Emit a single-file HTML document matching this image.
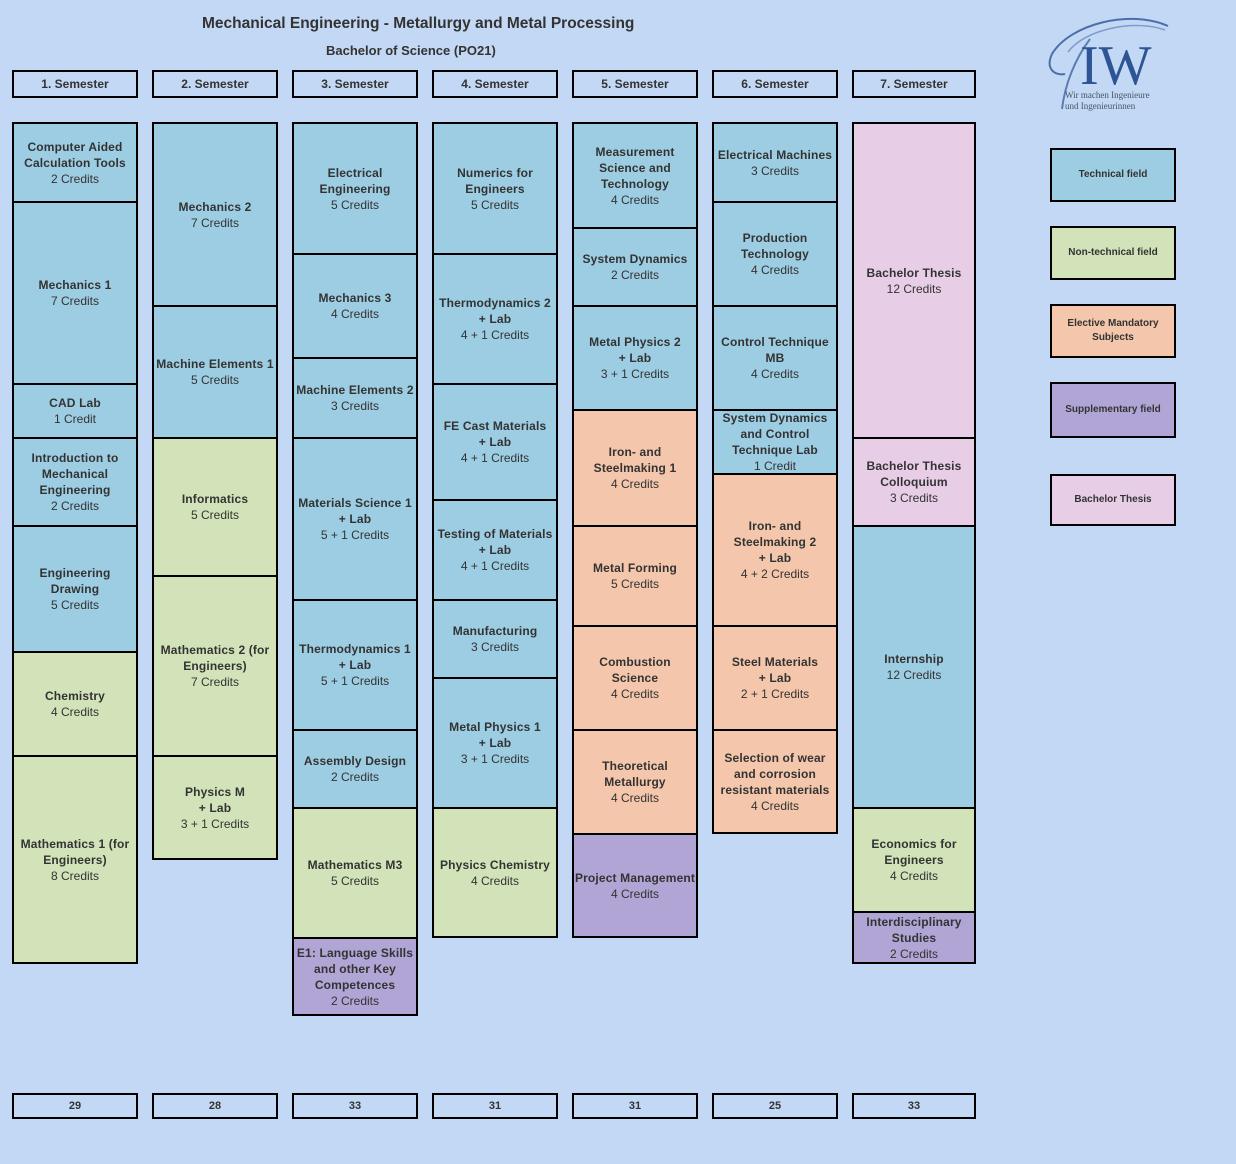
<!DOCTYPE html>
<html><head><meta charset="utf-8"><style>
body{margin:0;width:1236px;height:1164px;background:#c3d8f5;position:relative;overflow:hidden;font-family:"Liberation Sans",Arial,sans-serif;color:#333}
.x{position:absolute;box-sizing:border-box;border:2px solid #000;display:flex;flex-direction:column;align-items:center;justify-content:center;text-align:center;font-size:12px;line-height:16px}
.x b{letter-spacing:.15px;white-space:nowrap}
.h{font-weight:bold;font-size:12px}
.t{background:#9dcde2}.n{background:#d2e3b9}.e{background:#f4c6ab}.s{background:#b1a5d5}.p{background:#e8cde6}
.lg{font-size:10px;font-weight:bold;line-height:14px}
.title{position:absolute;font-weight:bold;color:#333}
</style></head><body>
<div class="title" style="left:202px;top:15px;font-size:15.5px">Mechanical Engineering - Metallurgy and Metal Processing</div>
<div class="title" style="left:326px;top:43px;font-size:13px">Bachelor of Science (PO21)</div>

<svg style="position:absolute;left:1040px;top:14px" width="140" height="100" viewBox="0 0 140 100">
<path d="M128 12 C90 -5 30 10 12 40 C5 55 15 62 25 60" fill="none" stroke="#4a6fa8" stroke-width="2"/>
<path d="M125 16 C95 5 45 15 28 38" fill="none" stroke="#7f9cc9" stroke-width="1.5"/>
<path d="M50 25 C35 45 25 70 22 95" fill="none" stroke="#5a7db3" stroke-width="2"/>
<text x="40" y="70" font-family="Liberation Serif,serif" font-size="56" fill="#2d5595">IW</text>
<text x="25" y="84" font-family="Liberation Serif,serif" font-size="9" fill="#456">Wir machen Ingenieure</text>
<text x="25" y="95" font-family="Liberation Serif,serif" font-size="9" fill="#456">und Ingenieurinnen</text>
</svg>

<div class="x h" style="left:12px;top:70px;width:126px;height:28px">1. Semester</div>
<div class="x h" style="left:152px;top:70px;width:126px;height:28px">2. Semester</div>
<div class="x h" style="left:292px;top:70px;width:126px;height:28px">3. Semester</div>
<div class="x h" style="left:432px;top:70px;width:126px;height:28px">4. Semester</div>
<div class="x h" style="left:572px;top:70px;width:126px;height:28px">5. Semester</div>
<div class="x h" style="left:712px;top:70px;width:126px;height:28px">6. Semester</div>
<div class="x h" style="left:852px;top:70px;width:124px;height:28px">7. Semester</div>

<!-- col1 -->
<div class="x t" style="left:12px;top:122px;width:126px;height:81px"><b>Computer Aided<br>Calculation Tools</b>2 Credits</div>
<div class="x t" style="left:12px;top:201px;width:126px;height:184px"><b>Mechanics 1</b>7 Credits</div>
<div class="x t" style="left:12px;top:383px;width:126px;height:56px"><b>CAD Lab</b>1 Credit</div>
<div class="x t" style="left:12px;top:437px;width:126px;height:90px"><b>Introduction to<br>Mechanical<br>Engineering</b>2 Credits</div>
<div class="x t" style="left:12px;top:525px;width:126px;height:128px"><b>Engineering<br>Drawing</b>5 Credits</div>
<div class="x n" style="left:12px;top:651px;width:126px;height:106px"><b>Chemistry</b>4 Credits</div>
<div class="x n" style="left:12px;top:755px;width:126px;height:209px"><b>Mathematics 1 (for<br>Engineers)</b>8 Credits</div>
<!-- col2 -->
<div class="x t" style="left:152px;top:122px;width:126px;height:185px"><b>Mechanics 2</b>7 Credits</div>
<div class="x t" style="left:152px;top:305px;width:126px;height:134px"><b>Machine Elements 1</b>5 Credits</div>
<div class="x n" style="left:152px;top:437px;width:126px;height:140px"><b>Informatics</b>5 Credits</div>
<div class="x n" style="left:152px;top:575px;width:126px;height:182px"><b>Mathematics 2 (for<br>Engineers)</b>7 Credits</div>
<div class="x n" style="left:152px;top:755px;width:126px;height:105px"><b>Physics M<br>+ Lab</b>3 + 1 Credits</div>
<!-- col3 -->
<div class="x t" style="left:292px;top:122px;width:126px;height:133px"><b>Electrical<br>Engineering</b>5 Credits</div>
<div class="x t" style="left:292px;top:253px;width:126px;height:106px"><b>Mechanics 3</b>4 Credits</div>
<div class="x t" style="left:292px;top:357px;width:126px;height:82px"><b>Machine Elements 2</b>3 Credits</div>
<div class="x t" style="left:292px;top:437px;width:126px;height:164px"><b>Materials Science 1<br>+ Lab</b>5 + 1 Credits</div>
<div class="x t" style="left:292px;top:599px;width:126px;height:132px"><b>Thermodynamics 1<br>+ Lab</b>5 + 1 Credits</div>
<div class="x t" style="left:292px;top:729px;width:126px;height:80px"><b>Assembly Design</b>2 Credits</div>
<div class="x n" style="left:292px;top:807px;width:126px;height:132px"><b>Mathematics M3</b>5 Credits</div>
<div class="x s" style="left:292px;top:937px;width:126px;height:79px"><b>E1: Language Skills<br>and other Key<br>Competences</b>2 Credits</div>
<!-- col4 -->
<div class="x t" style="left:432px;top:122px;width:126px;height:133px"><b>Numerics for<br>Engineers</b>5 Credits</div>
<div class="x t" style="left:432px;top:253px;width:126px;height:132px"><b>Thermodynamics 2<br>+ Lab</b>4 + 1 Credits</div>
<div class="x t" style="left:432px;top:383px;width:126px;height:118px"><b>FE Cast Materials<br>+ Lab</b>4 + 1 Credits</div>
<div class="x t" style="left:432px;top:499px;width:126px;height:102px"><b>Testing of Materials<br>+ Lab</b>4 + 1 Credits</div>
<div class="x t" style="left:432px;top:599px;width:126px;height:80px"><b>Manufacturing</b>3 Credits</div>
<div class="x t" style="left:432px;top:677px;width:126px;height:132px"><b>Metal Physics 1<br>+ Lab</b>3 + 1 Credits</div>
<div class="x n" style="left:432px;top:807px;width:126px;height:131px"><b>Physics Chemistry</b>4 Credits</div>
<!-- col5 -->
<div class="x t" style="left:572px;top:122px;width:126px;height:107px"><b>Measurement<br>Science and<br>Technology</b>4 Credits</div>
<div class="x t" style="left:572px;top:227px;width:126px;height:80px"><b>System Dynamics</b>2 Credits</div>
<div class="x t" style="left:572px;top:305px;width:126px;height:106px"><b>Metal Physics 2<br>+ Lab</b>3 + 1 Credits</div>
<div class="x e" style="left:572px;top:409px;width:126px;height:118px"><b>Iron- and<br>Steelmaking 1</b>4 Credits</div>
<div class="x e" style="left:572px;top:525px;width:126px;height:102px"><b>Metal Forming</b>5 Credits</div>
<div class="x e" style="left:572px;top:625px;width:126px;height:106px"><b>Combustion<br>Science</b>4 Credits</div>
<div class="x e" style="left:572px;top:729px;width:126px;height:106px"><b>Theoretical<br>Metallurgy</b>4 Credits</div>
<div class="x s" style="left:572px;top:833px;width:126px;height:105px"><b>Project Management</b>4 Credits</div>
<!-- col6 -->
<div class="x t" style="left:712px;top:122px;width:126px;height:81px"><b>Electrical Machines</b>3 Credits</div>
<div class="x t" style="left:712px;top:201px;width:126px;height:106px"><b>Production<br>Technology</b>4 Credits</div>
<div class="x t" style="left:712px;top:305px;width:126px;height:106px"><b>Control Technique<br>MB</b>4 Credits</div>
<div class="x t" style="left:712px;top:409px;width:126px;height:66px"><b>System Dynamics<br>and Control<br>Technique Lab</b>1 Credit</div>
<div class="x e" style="left:712px;top:473px;width:126px;height:154px"><b>Iron- and<br>Steelmaking 2<br>+ Lab</b>4 + 2 Credits</div>
<div class="x e" style="left:712px;top:625px;width:126px;height:106px"><b>Steel Materials<br>+ Lab</b>2 + 1 Credits</div>
<div class="x e" style="left:712px;top:729px;width:126px;height:105px"><b>Selection of wear<br>and corrosion<br>resistant materials</b>4 Credits</div>
<!-- col7 -->
<div class="x p" style="left:852px;top:122px;width:124px;height:317px"><b>Bachelor Thesis</b>12 Credits</div>
<div class="x p" style="left:852px;top:437px;width:124px;height:90px"><b>Bachelor Thesis<br>Colloquium</b>3 Credits</div>
<div class="x t" style="left:852px;top:525px;width:124px;height:284px"><b>Internship</b>12 Credits</div>
<div class="x n" style="left:852px;top:807px;width:124px;height:106px"><b>Economics for<br>Engineers</b>4 Credits</div>
<div class="x s" style="left:852px;top:911px;width:124px;height:53px"><b>Interdisciplinary<br>Studies</b>2 Credits</div>

<!-- legend -->
<div class="x t lg" style="left:1050px;top:148px;width:126px;height:54px">Technical field</div>
<div class="x n lg" style="left:1050px;top:226px;width:126px;height:54px">Non-technical field</div>
<div class="x e lg" style="left:1050px;top:304px;width:126px;height:54px">Elective Mandatory<br>Subjects</div>
<div class="x s lg" style="left:1050px;top:382px;width:126px;height:56px">Supplementary field</div>
<div class="x p lg" style="left:1050px;top:474px;width:126px;height:52px">Bachelor Thesis</div>

<!-- totals -->
<div class="x h" style="left:12px;top:1093px;width:126px;height:26px;font-size:11px">29</div>
<div class="x h" style="left:152px;top:1093px;width:126px;height:26px;font-size:11px">28</div>
<div class="x h" style="left:292px;top:1093px;width:126px;height:26px;font-size:11px">33</div>
<div class="x h" style="left:432px;top:1093px;width:126px;height:26px;font-size:11px">31</div>
<div class="x h" style="left:572px;top:1093px;width:126px;height:26px;font-size:11px">31</div>
<div class="x h" style="left:712px;top:1093px;width:126px;height:26px;font-size:11px">25</div>
<div class="x h" style="left:852px;top:1093px;width:124px;height:26px;font-size:11px">33</div>
</body></html>
